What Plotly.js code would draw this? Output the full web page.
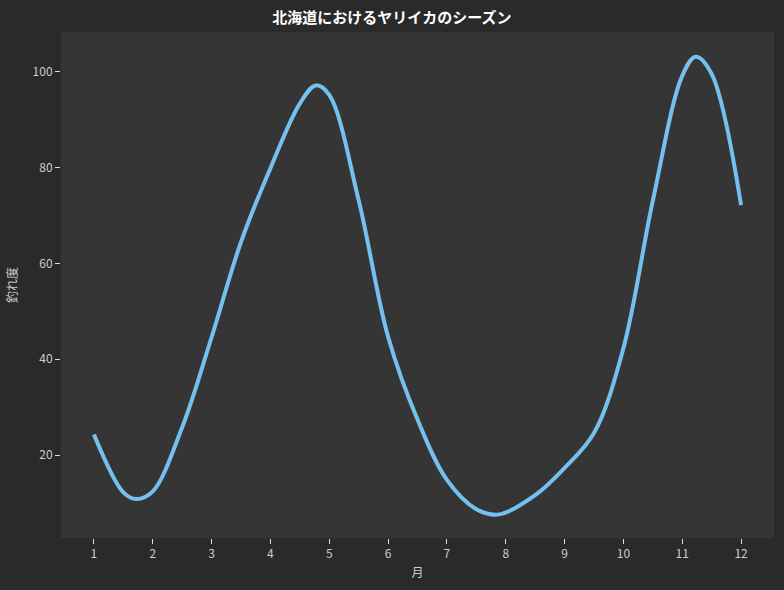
<!DOCTYPE html>
<html>
<head>
<meta charset="utf-8">
<script src="https://cdn.plot.ly/plotly-3.0.1.min.js"></script>
<style>html,body{margin:0;padding:0;background:#2a2a2a;}#chart{width:784px;height:590px;}</style>
</head>
<body>
<div id="chart"></div>
<script>
// Month positions and catch level
const months = [1, 1.5, 1.72, 2, 2.5, 3, 3.5, 4, 4.5, 4.77, 5, 5.5, 6, 6.5, 7, 7.5, 7.89, 8.5, 9, 9.5, 10, 10.5, 11, 11.23, 11.5, 12];
const catchLevel = [24.3, 12.2, 10.8, 12.4, 25.8, 44.6, 64.5, 79.9, 93.4, 97.2, 95.2, 73.2, 44.7, 27.4, 14.8, 8.7, 7.6, 11.6, 17.3, 24.6, 42.3, 73.1, 99.2, 103.2, 99.6, 72.2];
const tickMonths = [1,2,3,4,5,6,7,8,9,10,11,12];
const tickLabels = ['1','2','3','4','5','6','7','8','9','10','11','12'];
const yTicks = [20, 40, 60, 80, 100];

const font = '"Noto Sans CJK JP", "Noto Sans", sans-serif';

Plotly.newPlot('chart', [{
  x: months,
  y: catchLevel,
  type: 'scatter',
  mode: 'lines',
  line: {color: '#74c0ef', width: 4, shape: 'spline', smoothing: 1},
  hoverinfo: 'x+y'
}], {
  width: 784, height: 590,
  paper_bgcolor: '#2a2a2a',
  plot_bgcolor: '#353535',
  margin: {l: 61, r: 10, t: 32, b: 52},
  showlegend: false,
  title: {text: '<b>北海道におけるヤリイカのシーズン</b>', x: 0.5, xanchor: 'center', y: 0.97, yanchor: 'middle',
          font: {family: font, size: 15, color: '#ffffff'}},
  xaxis: {
    range: [0.44, 12.56],
    tickmode: 'array', tickvals: tickMonths, ticktext: tickLabels,
    ticks: 'outside', ticklen: 5, tickwidth: 1, tickcolor: '#dddddd',
    showgrid: false, zeroline: false, showline: false,
    tickfont: {family: font, size: 12, color: '#cccccc'},
    title: {text: '月', font: {family: font, size: 12, color: '#cccccc'}, standoff: 8}
  },
  yaxis: {
    range: [2.67, 108.35],
    tickmode: 'array', tickvals: yTicks,
    ticks: 'outside', ticklen: 5, tickwidth: 1, tickcolor: '#dddddd',
    showgrid: false, zeroline: false, showline: false,
    tickfont: {family: font, size: 12, color: '#cccccc'},
    title: {text: '釣れ度', font: {family: font, size: 12, color: '#cccccc'}, standoff: 12}
  }
}, {displayModeBar: false});
</script>
</body>
</html>
